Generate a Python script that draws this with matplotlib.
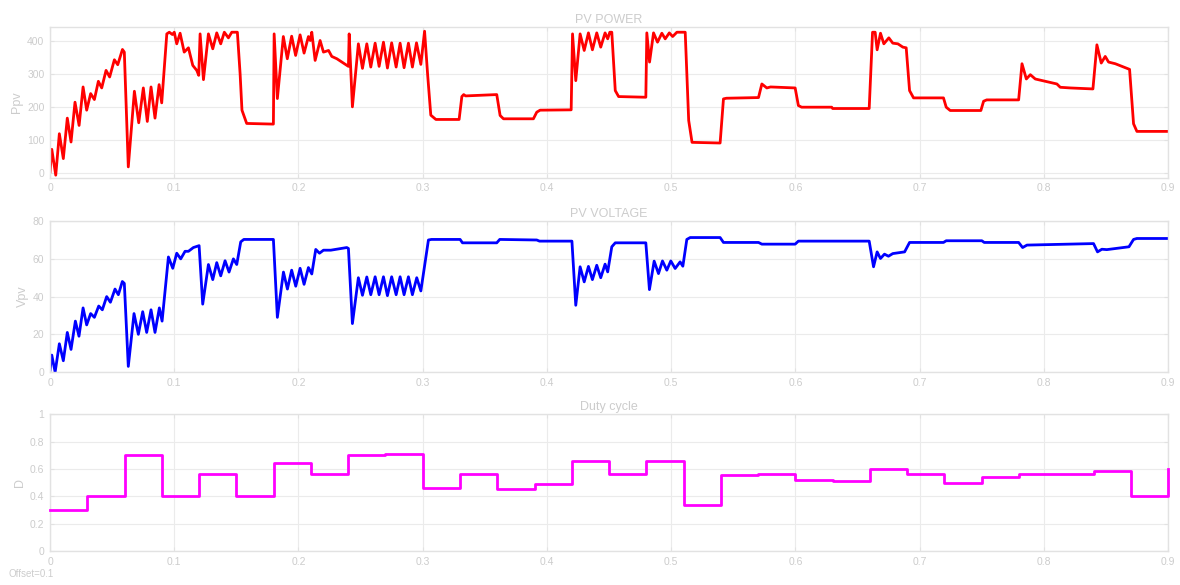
import numpy as np
import matplotlib
matplotlib.use('Agg')
import matplotlib.pyplot as plt

## Data ##

# PV power (W)
t_p = [0.0000, 0.0014, 0.0046, 0.0075, 0.0107, 0.0139, 0.0169, 0.0201, 0.0234, 0.0266,
       0.0295, 0.0327, 0.0357, 0.0389, 0.0416, 0.0451, 0.0480, 0.0518, 0.0545, 0.0583,
       0.0598, 0.0630, 0.0679, 0.0714, 0.0751, 0.0783, 0.0813, 0.0845, 0.0878, 0.0899,
       0.0940, 0.0960, 0.0985, 0.1000, 0.1020, 0.1047, 0.1080, 0.1114, 0.1149, 0.1181,
       0.1197, 0.1208, 0.1235, 0.1275, 0.1310, 0.1342, 0.1374, 0.1403, 0.1436, 0.1463,
       0.1508, 0.1530, 0.1545, 0.1583, 0.1798, 0.1804, 0.1830, 0.1878, 0.1910, 0.1945,
       0.1977, 0.2013, 0.2045, 0.2080, 0.2095, 0.2107, 0.2134, 0.2174, 0.2201, 0.2242,
       0.2268, 0.2309, 0.2390, 0.2402, 0.2408, 0.2434, 0.2482, 0.2515, 0.2550, 0.2582,
       0.2617, 0.2649, 0.2684, 0.2716, 0.2750, 0.2786, 0.2818, 0.2850, 0.2885, 0.2917,
       0.2950, 0.2985, 0.3015, 0.3040, 0.3065, 0.3106, 0.3293, 0.3315, 0.3330, 0.3345,
       0.3596, 0.3623, 0.3650, 0.3891, 0.3918, 0.3945, 0.4195, 0.4206, 0.4232, 0.4267,
       0.4300, 0.4334, 0.4366, 0.4401, 0.4433, 0.4468, 0.4489, 0.4506, 0.4522, 0.4550,
       0.4577, 0.4796, 0.4804, 0.4826, 0.4858, 0.4890, 0.4925, 0.4952, 0.4985, 0.5012,
       0.5046, 0.5113, 0.5141, 0.5168, 0.5394, 0.5421, 0.5445, 0.5703, 0.5730, 0.5770,
       0.5800, 0.5998, 0.6024, 0.6050, 0.6292, 0.6300, 0.6594, 0.6621, 0.6642, 0.6658,
       0.6685, 0.6712, 0.6752, 0.6784, 0.6825, 0.6865, 0.6892, 0.6919, 0.6951, 0.7192,
       0.7214, 0.7246, 0.7493, 0.7515, 0.7540, 0.7797, 0.7824, 0.7859, 0.7891, 0.7931,
       0.8025, 0.8105, 0.8132, 0.8213, 0.8395, 0.8427, 0.8462, 0.8494, 0.8521, 0.8575,
       0.8690, 0.8722, 0.8749, 0.9000]
p_pv = [4, 72, -6, 119, 44, 166, 94, 214, 144, 260,
        190, 240, 222, 277, 257, 310, 290, 342, 327, 373,
        365, 19, 247, 152, 257, 156, 260, 166, 267, 212,
        420, 425, 418, 425, 390, 422, 365, 378, 325, 310,
        295, 420, 282, 420, 375, 423, 390, 425, 408, 425,
        425, 300, 190, 150, 148, 420, 225, 412, 345, 413,
        355, 417, 362, 412, 400, 425, 340, 400, 365, 370,
        352, 345, 325, 322, 420, 200, 390, 316, 390, 320,
        392, 322, 395, 317, 393, 320, 392, 318, 392, 320,
        393, 328, 428, 295, 175, 162, 162, 231, 237, 233,
        237, 174, 164, 164, 184, 190, 191, 420, 279, 420,
        370, 423, 372, 423, 380, 423, 405, 425, 425, 249,
        231, 229, 423, 335, 423, 395, 422, 405, 423, 412,
        425, 425, 159, 93, 91, 224, 226, 228, 269, 257,
        260, 257, 204, 199, 199, 195, 195, 425, 425, 372,
        422, 390, 408, 392, 390, 380, 378, 249, 227, 227,
        199, 189, 189, 217, 221, 221, 330, 284, 297, 284,
        276, 269, 259, 257, 254, 387, 332, 352, 335, 330,
        313, 149, 126, 126]

# PV voltage (V)
t_v = [0.0000, 0.0014, 0.0041, 0.0075, 0.0107, 0.0139, 0.0169, 0.0204, 0.0233, 0.0266,
       0.0295, 0.0327, 0.0357, 0.0392, 0.0421, 0.0456, 0.0486, 0.0523, 0.0550, 0.0582,
       0.0598, 0.0630, 0.0676, 0.0711, 0.0746, 0.0778, 0.0813, 0.0845, 0.0880, 0.0902,
       0.0953, 0.0988, 0.1020, 0.1052, 0.1087, 0.1114, 0.1154, 0.1200, 0.1229, 0.1275,
       0.1310, 0.1342, 0.1374, 0.1409, 0.1441, 0.1476, 0.1503, 0.1535, 0.1560, 0.1798,
       0.1830, 0.1879, 0.1911, 0.1945, 0.1978, 0.2013, 0.2045, 0.2080, 0.2107, 0.2139,
       0.2169, 0.2201, 0.2260, 0.2389, 0.2402, 0.2434, 0.2482, 0.2515, 0.2550, 0.2582,
       0.2617, 0.2649, 0.2684, 0.2716, 0.2750, 0.2786, 0.2818, 0.2850, 0.2885, 0.2917,
       0.2952, 0.2985, 0.3046, 0.3070, 0.3301, 0.3320, 0.3596, 0.3620, 0.3918, 0.3940,
       0.4201, 0.4232, 0.4267, 0.4300, 0.4334, 0.4366, 0.4401, 0.4433, 0.4468, 0.4489,
       0.4522, 0.4550, 0.4796, 0.4825, 0.4863, 0.4898, 0.4930, 0.4965, 0.4997, 0.5032,
       0.5072, 0.5094, 0.5126, 0.5153, 0.5394, 0.5421, 0.5703, 0.5730, 0.5998, 0.6024,
       0.6594, 0.6629, 0.6658, 0.6685, 0.6717, 0.6749, 0.6784, 0.6879, 0.6919, 0.7192,
       0.7214, 0.7501, 0.7520, 0.7797, 0.7829, 0.7864, 0.8400, 0.8432, 0.8467, 0.8507,
       0.8685, 0.8722, 0.8749, 0.9000]
v_pv = [1, 9, 0, 15, 6, 21, 12, 27, 19, 34,
        25, 31, 29, 35, 33, 40, 37, 44, 41, 48,
        47, 3, 31, 20, 32, 21, 33, 21, 34, 27,
        61, 55, 63, 60, 64, 64, 66, 67, 36, 57,
        49, 58, 51, 59, 53, 60, 57, 69, 70.3, 70.3,
        29, 53, 44, 54, 45.5, 55, 46.5, 55.4, 52, 65,
        63, 64.6, 64.6, 66, 65.5, 25.7, 50, 40.7, 50.4, 41,
        50.5, 41, 50.5, 40.5, 50.5, 41, 50.5, 41, 50.5, 41,
        50, 43, 70, 70.3, 70.3, 68.5, 68.5, 70.3, 70, 69.4,
        69.4, 35.4, 55.8, 47.8, 56, 49, 56.6, 50, 57.2, 53.1,
        66.4, 68.5, 68.5, 43.7, 58.8, 52.2, 58.9, 54, 58.9, 54.9,
        58.4, 56.1, 70.3, 71.3, 71.3, 68.7, 68.7, 67.8, 67.8, 69.4,
        69.4, 55.8, 63.7, 60.2, 62.5, 61.4, 62.8, 63.7, 68.7, 68.7,
        69.6, 69.6, 68.7, 68.7, 66, 67.3, 68.1, 63.7, 65.1, 64.9,
        66.4, 70.3, 70.8, 70.8]

# duty cycle steps
t_d = [0.00, 0.03, 0.06, 0.09, 0.12, 0.15, 0.18, 0.21, 0.24, 0.27,
       0.30, 0.33, 0.36, 0.39, 0.42, 0.45, 0.48, 0.51, 0.54, 0.57,
       0.60, 0.63, 0.66, 0.69, 0.72, 0.75, 0.78, 0.81, 0.84, 0.87, 0.90]
duty = [0.30, 0.40, 0.70, 0.40, 0.56, 0.40, 0.64, 0.56, 0.70, 0.71,
        0.46, 0.56, 0.455, 0.49, 0.66, 0.56, 0.66, 0.34, 0.555, 0.56,
        0.52, 0.51, 0.60, 0.56, 0.50, 0.54, 0.565, 0.562, 0.585, 0.40, 0.60]

xticks = [0, 0.1, 0.2, 0.3, 0.4, 0.5, 0.6, 0.7, 0.8, 0.9]
xticklabels = ['0', '0.1', '0.2', '0.3', '0.4', '0.5', '0.6', '0.7', '0.8', '0.9']

#### style ####
plt.rcParams['font.family'] = ['Liberation Sans', 'DejaVu Sans']
txt = '#cccccc'
gridc = '#ebebeb'
edge = '#e2e2e2'

fig = plt.figure(figsize=(11.8, 5.85), dpi=100)

L, W = 0.0424, 0.9475
ax1 = fig.add_axes([L, 0.696, W, 0.258])
ax2 = fig.add_axes([L, 0.364, W, 0.258])
ax3 = fig.add_axes([L, 0.058, W, 0.234])


def scope_style(ax, title, ylabel):
    ax.set_xlim(0, 0.9)
    ax.set_xticks(xticks)
    ax.set_xticklabels(xticklabels)
    ax.grid(True, color=gridc, lw=0.8)
    ax.set_axisbelow(True)
    for s in ax.spines.values():
        s.set_color(edge)
        s.set_linewidth(1.0)
    ax.tick_params(direction='in', length=3, color=edge, labelcolor=txt,
                   labelsize=7.5, right=True, top=True, pad=4)
    ax.set_title(title, color=txt, fontsize=9, pad=3)
    ax.set_ylabel(ylabel, color=txt, fontsize=9, labelpad=3)


ax1.plot(t_p, p_pv, color='#ff0000', lw=2.0, solid_joinstyle='round')
scope_style(ax1, 'PV POWER', 'Ppv')
ax1.set_ylim(-14, 441)
ax1.set_yticks([0, 100, 200, 300, 400])

ax2.plot(t_v, v_pv, color='#0000ff', lw=2.0, solid_joinstyle='round')
scope_style(ax2, 'PV VOLTAGE', 'Vpv')
ax2.set_ylim(0, 80)
ax2.set_yticks([0, 20, 40, 60, 80])

ax3.step(t_d, duty, where='post', color='#ff00ff', lw=2.0, clip_on=False, zorder=3)
scope_style(ax3, 'Duty cycle', 'D')
ax3.set_ylim(0, 1)
ax3.set_yticks([0, 0.2, 0.4, 0.6, 0.8, 1])
ax3.set_yticklabels(['0', '0.2', '0.4', '0.6', '0.8', '1'])

fig.text(0.007, 0.013, 'Offset=0.1', color=txt, fontsize=7)

plt.savefig('out.png', dpi=100)
